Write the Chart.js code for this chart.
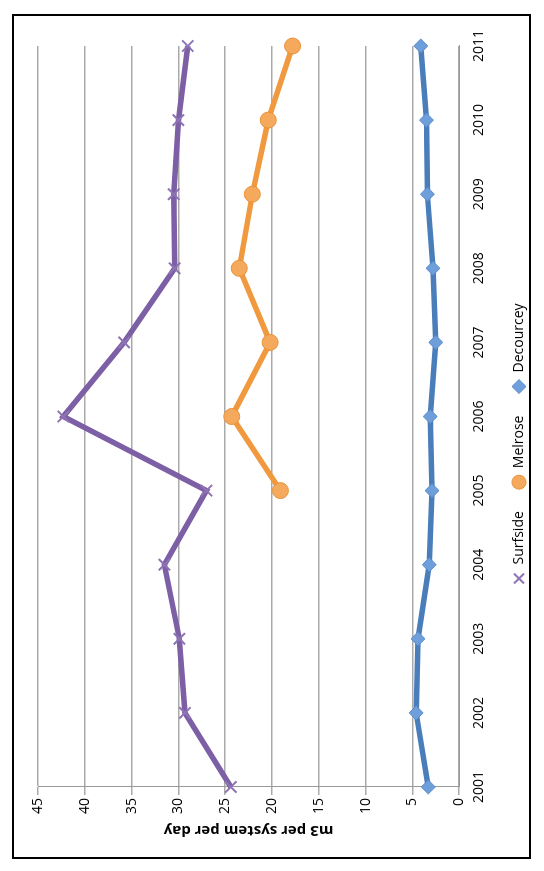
<!DOCTYPE html>
<html>
<head>
<meta charset="utf-8">
<script src="https://cdn.jsdelivr.net/npm/chart.js@4"></script>
<style>
  html, body { margin: 0; padding: 0; background: #fff; overflow: hidden; }
  #wrap {
    position: absolute; left: 0; top: 0; width: 871px; height: 544px;
    transform-origin: 0 0; transform: translateY(871px) rotate(-90deg);
  }
  #frame {
    position: absolute; left: 12px; top: 12px; width: 845px; height: 519px;
    border: 2px solid #000; box-sizing: border-box;
  }
  canvas { position: absolute; left: 0; top: 0; }
</style>
</head>
<body>
<div id="wrap">
  <div id="frame"></div>
  <canvas id="chart" width="871" height="544"></canvas>
</div>
<script>
(function() {
	'use strict';

	var years = ['2001', '2002', '2003', '2004', '2005', '2006', '2007', '2008', '2009', '2010', '2011'];
	var surfside = [24.4, 29.3, 29.9, 31.5, 27.0, 42.3, 35.8, 30.4, 30.5, 30.0, 29.0];
	var melrose = [null, null, null, null, 19.1, 24.3, 20.2, 23.5, 22.1, 20.4, 17.8];
	var decourcey = [3.3, 4.6, 4.4, 3.2, 2.9, 3.1, 2.5, 2.8, 3.4, 3.5, 4.1];
	var yTicks = [0, 5, 10, 15, 20, 25, 30, 35, 40, 45];

	var font = { family: 'Open Sans', size: 14 };

	new Chart(document.getElementById('chart').getContext('2d'), {
		type: 'line',
		data: {
			labels: years,
			datasets: [{
				label: 'Surfside',
				data: surfside,
				borderColor: '#7D5FA6',
				backgroundColor: '#7D5FA6',
				borderWidth: 5.5,
				pointStyle: 'crossRot',
				pointRadius: 8,
				pointBorderWidth: 2,
				pointBorderColor: '#8E74B4',
				tension: 0
			}, {
				label: 'Melrose',
				data: melrose,
				borderColor: '#F0993F',
				backgroundColor: '#F5A95C',
				borderWidth: 5.5,
				pointStyle: 'circle',
				pointRadius: 8,
				pointBorderWidth: 1,
				pointBorderColor: '#E8913A',
				tension: 0
			}, {
				label: 'Decourcey',
				data: decourcey,
				borderColor: '#4A7EBB',
				backgroundColor: '#6E9FDA',
				borderWidth: 5.5,
				pointStyle: 'rectRot',
				pointRadius: 7,
				pointBorderWidth: 1,
				pointBorderColor: '#5A8CCB',
				tension: 0
			}]
		},
		options: {
			responsive: false,
			animation: false,
			layout: { padding: { left: 28, right: 46, top: 38, bottom: 8 } },
			plugins: {
				legend: {
					position: 'bottom',
					labels: { font: font, color: '#000', usePointStyle: true, pointStyleWidth: 14, boxHeight: 10, padding: 22 }
				},
				tooltip: { enabled: false }
			},
			scales: {
				x: {
					offset: false,
					grid: { display: false },
					border: { color: '#999' },
					ticks: { font: font, color: '#000' }
				},
				y: {
					min: 0,
					max: 45,
					afterBuildTicks: function(axis) {
						axis.ticks = yTicks.map(function(v) { return { value: v }; });
					},
					grid: { color: '#aaa', lineWidth: 1.5, drawTicks: true },
					border: { color: '#999' },
					ticks: { font: font, color: '#000' },
					title: { display: true, text: 'm3 per system per day', font: { family: 'Open Sans', size: 15, weight: 'bold' }, color: '#000' }
				}
			}
		}
	});
})();
</script>
</body>
</html>
